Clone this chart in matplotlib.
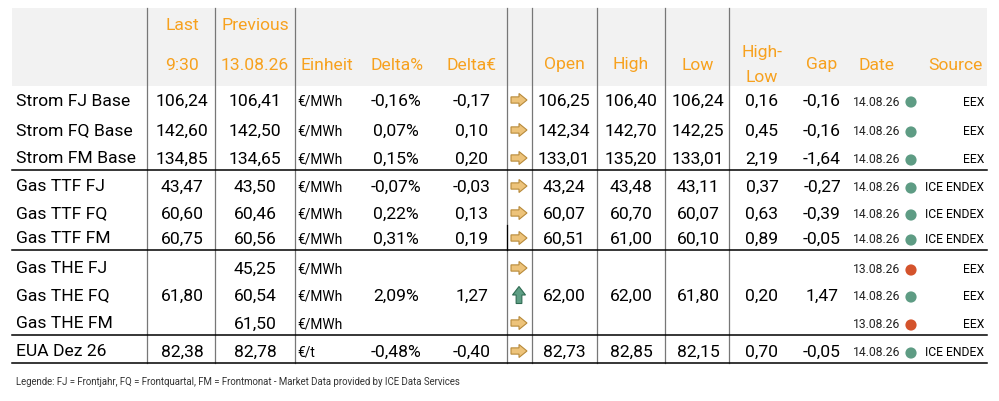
import matplotlib.pyplot as plt
from matplotlib.patches import Polygon, Rectangle, Circle

plt.rcParams['font.family'] = ['Roboto', 'DejaVu Sans']

names = ['Strom FJ Base', 'Strom FQ Base', 'Strom FM Base',
         'Gas TTF FJ', 'Gas TTF FQ', 'Gas TTF FM',
         'Gas THE FJ', 'Gas THE FQ', 'Gas THE FM', 'EUA Dez 26']
last = [106.24, 142.60, 134.85, 43.47, 60.60, 60.75, None, 61.80, None, 82.38]
prev = [106.41, 142.50, 134.65, 43.50, 60.46, 60.56, 45.25, 60.54, 61.50, 82.78]
unit = ['€/MWh'] * 9 + ['€/t']
delta_pct = [-0.16, 0.07, 0.15, -0.07, 0.22, 0.31, None, 2.09, None, -0.48]
delta_eur = [-0.17, 0.10, 0.20, -0.03, 0.13, 0.19, None, 1.27, None, -0.40]
trend = ['right'] * 7 + ['up', 'right', 'right']
open_ = [106.25, 142.34, 133.01, 43.24, 60.07, 60.51, None, 62.00, None, 82.73]
high = [106.40, 142.70, 135.20, 43.48, 60.70, 61.00, None, 62.00, None, 82.85]
low = [106.24, 142.25, 133.01, 43.11, 60.07, 60.10, None, 61.80, None, 82.15]
high_low = [0.16, 0.45, 2.19, 0.37, 0.63, 0.89, None, 0.20, None, 0.70]
gap = [-0.16, -0.16, -1.64, -0.27, -0.39, -0.05, None, 1.47, None, -0.05]
dates = ['14.08.26'] * 6 + ['13.08.26', '14.08.26', '13.08.26', '14.08.26']
fresh = [True] * 6 + [False, True, False, True]
sources = ['EEX'] * 3 + ['ICE ENDEX'] * 3 + ['EEX'] * 3 + ['ICE ENDEX']

legend_text = ('Legende: FJ = Frontjahr, FQ = Frontquartal, FM = Frontmonat - '
               'Market Data provided by ICE Data Services')

ORANGE = '#F7A11E'
BIG = 12.6
SMALL = 8.7


def fmt(v, pct=False):
    if v is None:
        return ''
    s = f'{v:.2f}'.replace('.', ',')
    return s + '%' if pct else s


def arrow(ax, x, y, kind):
    if kind == 'right':
        w, h = 16, 13
        x0 = x - w / 2
        pts = [(x0, y - h * 0.24), (x0 + w * 0.5, y - h * 0.24), (x0 + w * 0.5, y - h / 2),
               (x0 + w, y), (x0 + w * 0.5, y + h / 2), (x0 + w * 0.5, y + h * 0.24),
               (x0, y + h * 0.24)]
        ax.add_patch(Polygon(pts, closed=True, fc='#EDC37A', ec='#B88A3A', lw=0.8))
    else:
        w, h = 13, 17
        y0 = y + h / 2
        pts = [(x - w * 0.22, y0), (x - w * 0.22, y0 - h * 0.5), (x - w / 2, y0 - h * 0.5),
               (x, y0 - h), (x + w / 2, y0 - h * 0.5), (x + w * 0.22, y0 - h * 0.5),
               (x + w * 0.22, y0)]
        ax.add_patch(Polygon(pts, closed=True, fc='#5E9E84', ec='#2F6B52', lw=0.8))


fig = plt.figure(figsize=(9.99, 4.02), dpi=100)
ax = fig.add_axes([0, 0, 1, 1])
ax.set_xlim(0, 999)
ax.set_ylim(402, 0)
ax.axis('off')

# header band
ax.add_patch(Rectangle((12, 9), 975, 78, fc='#F2F2F2', ec='none'))

# vertical grid lines
for xv in [147, 215, 295, 507, 532, 597, 665, 729]:
    ax.plot([xv, xv], [9, 364], color='#777777', lw=0.9)
ax.plot([507, 507], [226, 251], color='black', lw=0.9)

# horizontal separators
for yh in [171, 251, 336, 364]:
    ax.plot([12, 987], [yh, yh], color='black', lw=1.1)

# header text
hdr = dict(color=ORANGE, fontsize=BIG, ha='center', va='center')
ax.text(182, 26, 'Last', **hdr)
ax.text(182, 65, '9:30', **hdr)
ax.text(255, 26, 'Previous', **hdr)
ax.text(255, 65, '13.08.26', **hdr)
for xc, lab in [(327, 'Einheit'), (397, 'Delta%'), (471, 'Delta€'), (564, 'Open'),
                (631, 'High'), (698, 'Low'), (822, 'Gap'), (876, 'Date'), (955, 'Source')]:
    ax.text(xc, 65, lab, **hdr)
ax.text(762, 52, 'High-', **hdr)
ax.text(762, 78, 'Low', **hdr)

# body rows
row_y = [101, 131, 159, 187, 214, 239, 269, 296, 324, 352]
body = dict(color='black', fontsize=BIG, va='center')
for i, y in enumerate(row_y):
    ax.text(16, y, names[i], ha='left', **body)
    ax.text(182, y, fmt(last[i]), ha='center', **body)
    ax.text(255, y, fmt(prev[i]), ha='center', **body)
    ax.text(297, y + 1, unit[i], ha='left', va='center', fontsize=9.9, color='black')
    ax.text(396, y, fmt(delta_pct[i], pct=True), ha='center', **body)
    ax.text(472, y, fmt(delta_eur[i]), ha='center', **body)
    arrow(ax, 519, y, trend[i])
    ax.text(564, y, fmt(open_[i]), ha='center', **body)
    ax.text(631, y, fmt(high[i]), ha='center', **body)
    ax.text(698, y, fmt(low[i]), ha='center', **body)
    ax.text(762, y, fmt(high_low[i]), ha='center', **body)
    ax.text(822, y, fmt(gap[i]), ha='center', **body)
    ax.text(853, y + 1, dates[i], ha='left', va='center', fontsize=SMALL, color='#222222')
    ax.add_patch(Circle((911, y + 2), 5.6, fc='#5E9C84' if fresh[i] else '#D4532C',
                        ec='none'))
    ax.text(984, y + 1, sources[i], ha='right', va='center', fontsize=SMALL, color='black')

ax.text(16, 382, legend_text, ha='left', va='center', fontsize=6.95, color='#333333')

fig.savefig('out.png', dpi=100)
